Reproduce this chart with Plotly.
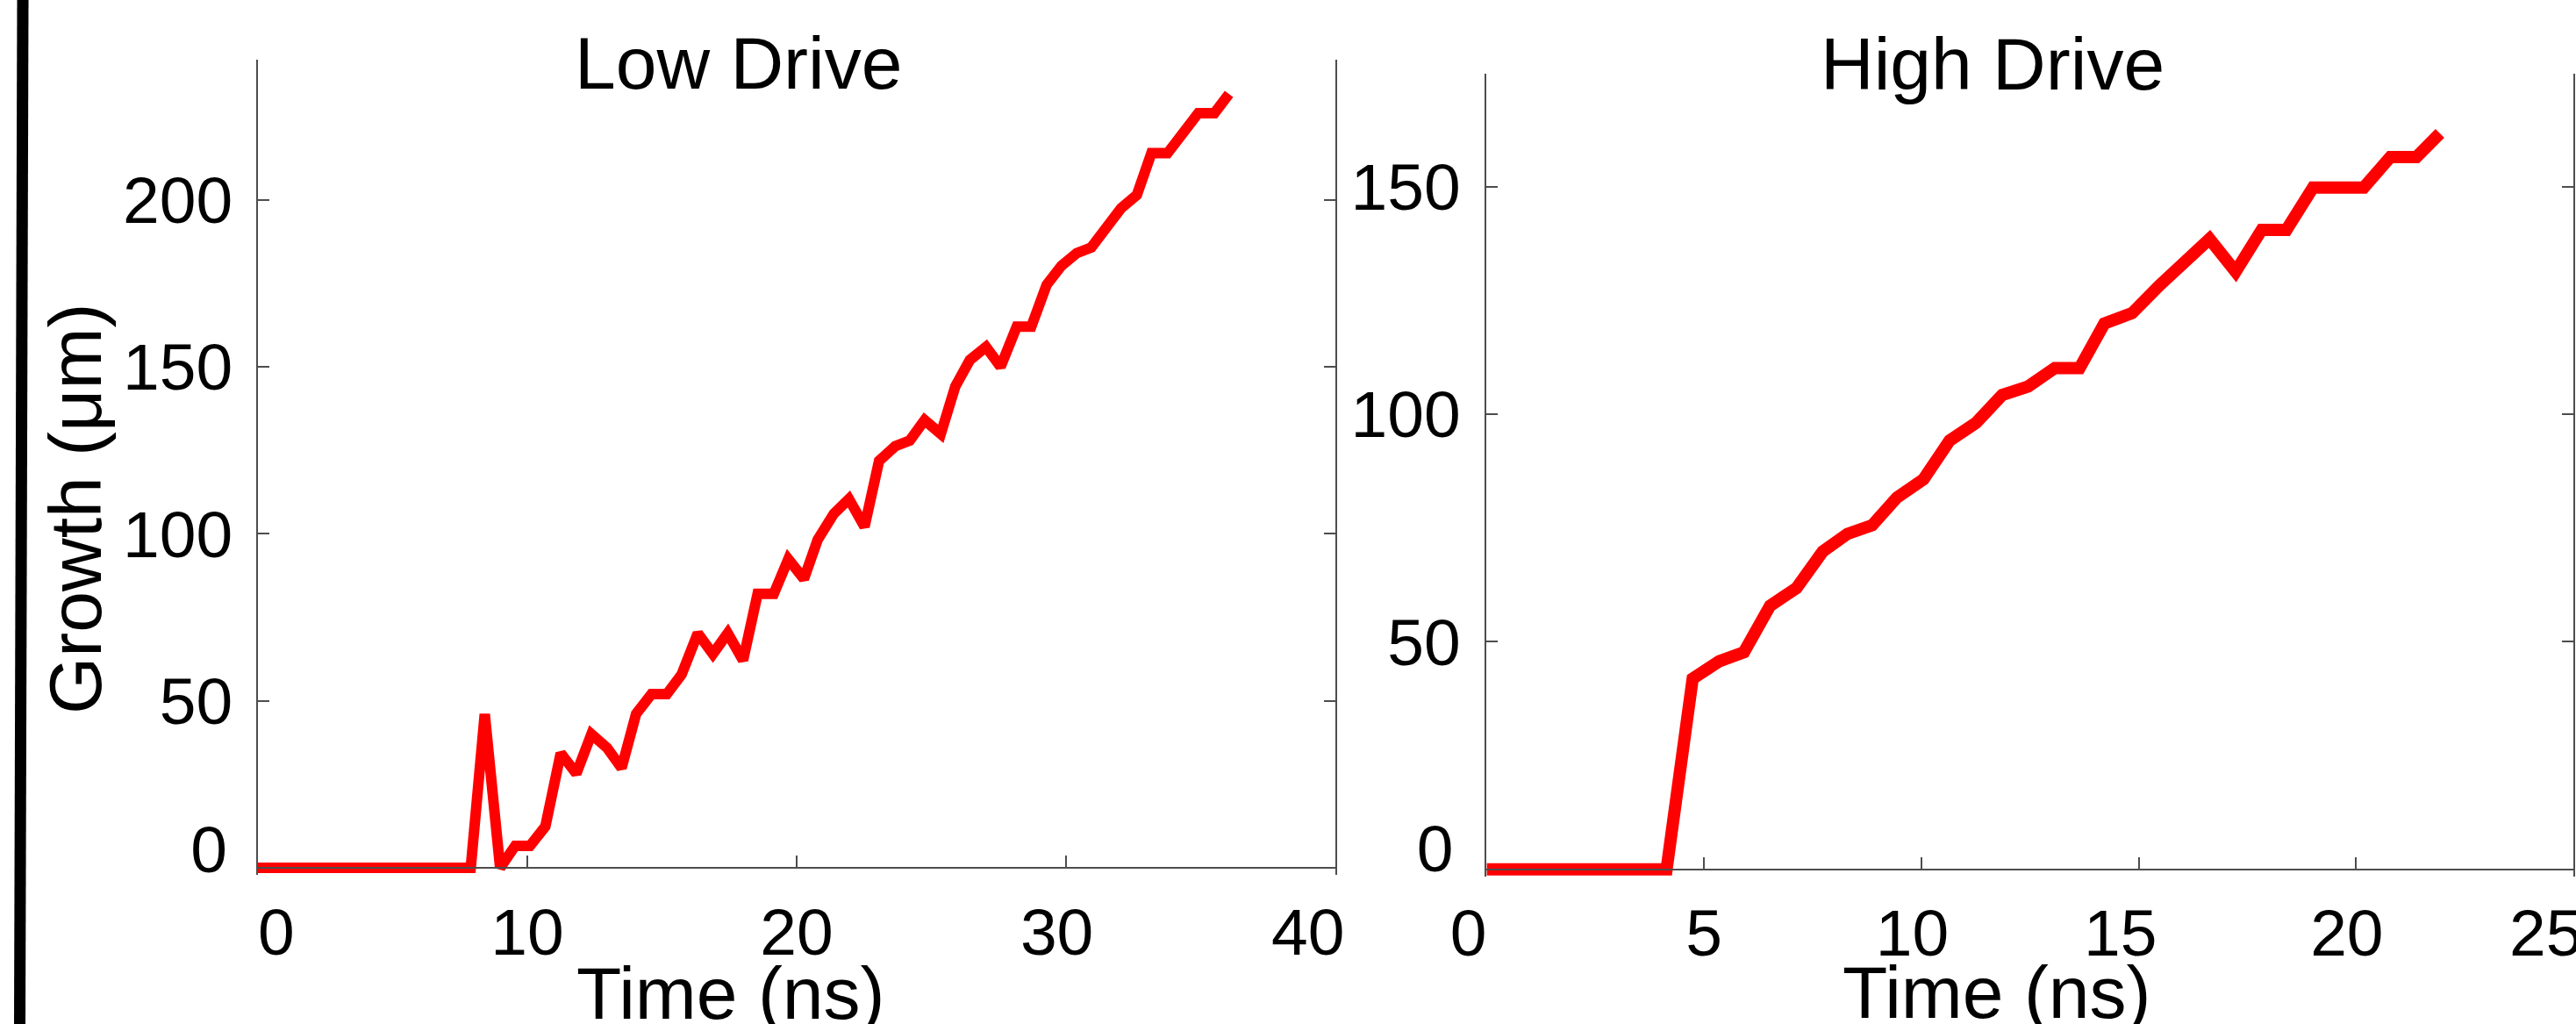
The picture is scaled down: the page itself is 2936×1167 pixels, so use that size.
import plotly.graph_objects as go

# ---------------- data ----------------
t_low = [0, 7.9, 8.42, 8.99, 9.55, 10.1, 10.67, 11.24, 11.82, 12.38, 12.96, 13.5,
         14.04, 14.61, 15.18, 15.73, 16.33, 16.89, 17.44, 18.01, 18.55, 19.15,
         19.69, 20.27, 20.78, 21.38, 21.94, 22.52, 23.06, 23.66, 24.2, 24.75,
         25.35, 25.89, 26.43, 27.03, 27.57, 28.17, 28.71, 29.28, 29.83, 30.4,
         30.94, 31.49, 32.05, 32.63, 33.17, 33.77, 34.37, 34.91, 35.51, 36.05]
growth_low = [0, 0, 46, 0, 6.6, 6.6, 12.4, 34.3, 28.2, 40, 35.9, 29.9,
              46.1, 52, 52, 57.9, 70.2, 64, 70.2, 62.1, 82, 82,
              92.4, 86.5, 98.2, 106, 110.4, 102.1, 121.8, 126.2, 127.9, 134,
              129.9, 144.1, 152, 155.9, 150, 162, 162, 174.5, 180.2, 184,
              185.7, 191.3, 197.5, 201.4, 213.9, 213.9, 220, 225.9, 225.9, 231.6]

t_high = [0, 4.14, 4.74, 5.35, 5.92, 6.52, 7.13, 7.73, 8.3, 8.87, 9.44, 10.05,
          10.65, 11.26, 11.86, 12.46, 13.07, 13.64, 14.21, 14.85, 15.48, 16.1,
          16.63, 17.23, 17.83, 18.4, 19.01, 19.6, 20.18, 20.79, 21.39, 21.93]
growth_high = [0, 0, 41.9, 45.7, 47.7, 57.9, 61.8, 69.8, 73.7, 75.6, 81.7, 85.7,
               94.2, 98.1, 104.2, 106.1, 110.1, 110.1, 119.9, 122.2, 128.3, 134.1,
               138.5, 131.3, 140.5, 140.5, 149.8, 149.8, 149.8, 156.5, 156.5, 161.7]

low_xticks = [0, 10, 20, 30, 40]
low_xticktext = ["\u00a0\u00a00", "10", "20", "30\u00a0", "40\u00a0\u00a0\u00a0"]
low_yticks = [0, 50, 100, 150, 200]
low_yticktext = ["", "50", "100", "150", "200"]
high_xticks = [0, 5, 10, 15, 20, 25]
high_xticktext = ["0\u00a0\u00a0", "5", "10\u00a0", "15\u00a0\u00a0", "20\u00a0", "25\u00a0\u00a0\u00a0"]
high_yticks = [0, 50, 100, 150]
high_yticktext = ["", "50", "100", "150"]
zero_tick = [0]
zero_text = ["0"]

title_low = "Low Drive"
title_high = "High Drive"
xlabel = "Time (ns)"
ylabel = "Growth (\u03bcm)"

# ---------------- layout geometry (pixels) ----------------
W, H = 2936, 1167
FONT = "Liberation Sans, Arial, sans-serif"
AX = "#4d4d4d"


def px(x):
    return x / W


def py(y):
    return 1 - y / H


fig = go.Figure()
fig.add_trace(go.Scatter(x=t_low, y=growth_low, mode="lines",
                         line=dict(color="#ff0000", width=12),
                         xaxis="x", yaxis="y", showlegend=False))
fig.add_trace(go.Scatter(x=t_high, y=growth_high, mode="lines",
                         line=dict(color="#ff0000", width=14),
                         xaxis="x2", yaxis="y2", showlegend=False))
# empty traces so the label-only overlay axes are instantiated
fig.add_trace(go.Scatter(x=[], y=[], xaxis="x", yaxis="y3", showlegend=False,
                         hoverinfo="skip"))
fig.add_trace(go.Scatter(x=[], y=[], xaxis="x2", yaxis="y4", showlegend=False,
                         hoverinfo="skip"))

tickfont = dict(family=FONT, size=75, color="black")
common = dict(showgrid=False, zeroline=False, showline=True, linecolor=AX,
              linewidth=1.5, ticks="inside", ticklen=13, tickwidth=1.5,
              tickcolor=AX, automargin=False, tickfont=tickfont)
label_only = dict(showgrid=False, zeroline=False, showline=False, ticks="",
                  automargin=False, tickfont=tickfont, side="left")

LOW_YR = [-2.1, 241.9]
HIGH_YR = [-1.6, 174.8]

fig.update_layout(
    width=W, height=H,
    margin=dict(l=0, r=0, t=0, b=0, pad=0, autoexpand=False),
    paper_bgcolor="white", plot_bgcolor="white",
    showlegend=False,
    xaxis=dict(domain=[px(294), px(1522)], range=[0, 40], anchor="free",
               position=py(989), tickvals=low_xticks, ticktext=low_xticktext,
               ticklabelstandoff=8, ticklabeloverflow="allow", **common),
    yaxis=dict(domain=[py(997), py(68)], range=LOW_YR, anchor="x",
               mirror="ticks", tickvals=low_yticks, ticktext=low_yticktext,
               ticklabelstandoff=12, **common),
    yaxis3=dict(overlaying="y", anchor="x", range=LOW_YR, tickvals=zero_tick,
                ticktext=zero_text, ticklabelstandoff=34, ticklabelshift=-21,
                **label_only),
    xaxis2=dict(domain=[px(1694.4), px(2933)], range=[0, 25], anchor="free",
                position=py(990.7), tickvals=high_xticks, ticktext=high_xticktext,
                ticklabelstandoff=8, ticklabeloverflow="allow", **common),
    yaxis2=dict(domain=[py(999), py(84)], range=HIGH_YR, anchor="x2",
                mirror="ticks", tickvals=high_yticks, ticktext=high_yticktext,
                ticklabelstandoff=13, **common),
    yaxis4=dict(overlaying="y2", anchor="x2", range=HIGH_YR, tickvals=zero_tick,
                ticktext=zero_text, ticklabelstandoff=37, ticklabelshift=-24,
                **label_only),
)

ann_font = dict(family=FONT, size=84, color="black")
annotations = [
    dict(text=title_low, x=px(841), y=py(72.5)),
    dict(text=title_high, x=px(2271), y=py(73)),
    dict(text=xlabel, x=px(833), y=py(1132)),
    dict(text=xlabel, x=px(2276), y=py(1131)),
    dict(text=ylabel, x=px(86), y=py(580), textangle=-90),
]
for a in annotations:
    fig.add_annotation(xref="paper", yref="paper", xanchor="center",
                       yanchor="middle", showarrow=False, font=ann_font, **a)

# thick black bar at the far left edge
fig.add_shape(type="line", xref="paper", yref="paper",
              x0=px(26), y0=1, x1=px(22.5), y1=0,
              line=dict(color="black", width=13))

fig.write_html("out.html")
